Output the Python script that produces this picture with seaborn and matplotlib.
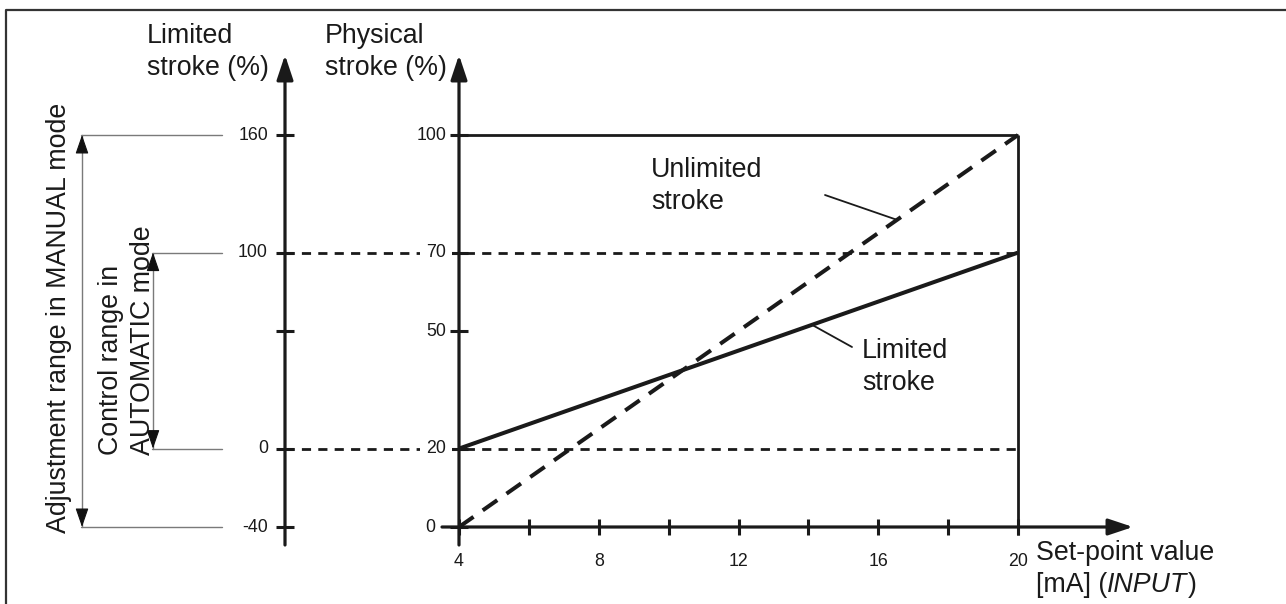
import matplotlib
matplotlib.use("Agg")
import matplotlib.pyplot as plt
import seaborn as sns

# Set-point current (mA) and the stroke it produces, on the physical scale (%)
setpoint_ma = [4, 20]
stroke_limited = [20, 70]
stroke_unlimited = [0, 100]

# Stroke limits on the physical scale (limited 0 % and 100 %)
limit_low = 20
limit_high = 70

# Tick values and labels
x_ticks = [4, 6, 8, 10, 12, 14, 16, 18, 20]
x_tick_labels = ["4", "", "8", "", "12", "", "16", "", "20"]
physical_ticks = [0, 20, 50, 70, 100]
physical_tick_labels = ["0", "20", "50", "70", "100"]
limited_ticks = [-40, 0, 60, 100, 160]
limited_tick_labels = ["-40", "0", "", "100", "160"]

# Adjustment ranges on the limited-stroke scale
manual_range = [-40, 160]
automatic_range = [0, 100]

sns.set_theme(style="white")
plt.rcParams["font.family"] = ["Liberation Sans", "DejaVu Sans"]

W, H = 1286, 604
fig = plt.figure(figsize=(W / 100, H / 100), dpi=100)
ax = fig.add_axes([0, 0, 1, 1])

# Pixel layout of the data area: 4 mA at x=459 px, 20 mA at x=1018 px,
# 0 % at y=527 px, 100 % at y=135 px
PX_PER_MA = (1018 - 459) / 16
PX_PER_PCT = (527 - 135) / 100
X0 = 4 - 459 / PX_PER_MA
Y0 = 527 / PX_PER_PCT
ax.set_xlim(X0, X0 + W / PX_PER_MA)
ax.set_ylim(Y0 - H / PX_PER_PCT, Y0)
ax.axis("off")


def xd(px):
    return X0 + px / PX_PER_MA


def yd(py):
    return Y0 - py / PX_PER_PCT


def dx(px):
    return px / PX_PER_MA


def dy(px):
    return px / PX_PER_PCT


def limited_to_physical(v):
    return limit_low + v * (limit_high - limit_low) / 100


INK = "#1a1a1a"
GUIDE = "#7a7a7a"
FS = 19.3
TICK_FS = 12.8

# Page frame
ax.plot([xd(6), xd(6), xd(W + 5)], [yd(H + 5), yd(10), yd(10)],
        color="#333333", lw=1.6, clip_on=False, solid_capstyle="butt")

# Axis arrows
axis_head = dict(arrowstyle="-|>,head_length=1.5,head_width=0.5",
                 mutation_scale=10, color=INK, lw=2.3,
                 shrinkA=0, shrinkB=0)
left_axis_x = xd(285)
for xa in (left_axis_x, setpoint_ma[0]):
    ax.annotate("", xy=(xa, yd(55)), xytext=(xa, yd(545)),
                arrowprops=axis_head)
ax.annotate("", xy=(xd(1133), 0), xytext=(xd(442), 0),
            arrowprops=axis_head)

# Ticks on the limited-stroke axis
for v, lab in zip(limited_ticks, limited_tick_labels):
    y = limited_to_physical(v)
    ax.plot([left_axis_x - dx(9), left_axis_x + dx(9)], [y, y],
            color=INK, lw=2.2, solid_capstyle="butt")
    if lab:
        ax.text(xd(268), y, lab, ha="right", va="center",
                fontsize=TICK_FS, color=INK)

# Ticks on the physical-stroke axis; labels on a dashed limit line
# sit in a gap of that line
for v, lab in zip(physical_ticks, physical_tick_labels):
    ax.plot([setpoint_ma[0] - dx(9), setpoint_ma[0] + dx(9)], [v, v],
            color=INK, lw=2.2, solid_capstyle="butt", zorder=4)
    gap = (dict(boxstyle="square,pad=0.35", fc="white", ec="none")
           if v in (limit_low, limit_high) else None)
    if v == 0:
        ax.text(xd(425), v, lab, ha="left", va="center",
                fontsize=TICK_FS, color=INK, zorder=5)
    else:
        ax.text(xd(446), v, lab, ha="right", va="center",
                fontsize=TICK_FS, color=INK, zorder=5, bbox=gap)

# Ticks on the set-point axis
for v, lab in zip(x_ticks, x_tick_labels):
    ax.plot([v, v], [dy(8), -dy(8)], color=INK, lw=2.2,
            solid_capstyle="butt")
    if lab:
        ax.text(v, yd(561), lab, ha="center", va="center",
                fontsize=TICK_FS, color=INK)

# Full-stroke frame: 100 % line and 20 mA line
ax.plot([setpoint_ma[0], setpoint_ma[1]], [100, 100], color=INK, lw=2.0,
        solid_capstyle="butt")
ax.plot([setpoint_ma[1], setpoint_ma[1]], [-dy(8), 100], color=INK,
        lw=2.0, solid_capstyle="butt")

# Stroke limits as dashed horizontals
for y in (limit_low, limit_high):
    ax.plot([left_axis_x, setpoint_ma[1]], [y, y], color=INK, lw=2.0,
            linestyle=(0, (3.3, 2.6)), dash_capstyle="butt", zorder=2)

# Stroke characteristics
sns.lineplot(x=setpoint_ma, y=stroke_unlimited, ax=ax, color=INK, lw=2.9,
             linestyle=(0, (4.4, 2.8)), dash_capstyle="butt", zorder=3)
sns.lineplot(x=setpoint_ma, y=stroke_limited, ax=ax, color=INK, lw=2.9,
             solid_capstyle="butt", zorder=3)
ax.axis("off")

# Range guides and double arrows
guide_end = xd(222)
range_head = dict(arrowstyle="-|>,head_length=1.3,head_width=0.45",
                  mutation_scale=9, color="#111111", lw=0.8,
                  shrinkA=0, shrinkB=0)
for rng, gx0 in ((manual_range, xd(82)), (automatic_range, xd(153))):
    ylo = limited_to_physical(rng[0])
    yhi = limited_to_physical(rng[1])
    for y in (ylo, yhi):
        ax.plot([gx0 - dx(1), guide_end], [y, y], color=GUIDE, lw=1.0)
    ax.plot([gx0, gx0], [ylo, yhi], color=GUIDE, lw=1.0)
    ax.annotate("", xy=(gx0, yhi), xytext=(gx0, yhi - dy(14)),
                arrowprops=range_head)
    ax.annotate("", xy=(gx0, ylo), xytext=(gx0, ylo + dy(14)),
                arrowprops=range_head)

ax.text(xd(59), yd(318), "Adjustment range in MANUAL mode", rotation=90,
        ha="center", va="center", fontsize=FS, color=INK)
ax.text(xd(127), yd(455), "Control range in\nAUTOMATIC mode", rotation=90,
        ha="center", va="bottom", multialignment="left", linespacing=1.3,
        fontsize=FS, color=INK)

# Axis titles
ax.text(xd(147), yd(23), "Limited\nstroke (%)", ha="left", va="top",
        fontsize=FS, color=INK, linespacing=1.3)
ax.text(xd(325), yd(23), "Physical\nstroke (%)", ha="left", va="top",
        fontsize=FS, color=INK, linespacing=1.3)

# Curve labels with leaders
ax.text(xd(651), yd(157), "Unlimited\nstroke", ha="left", va="top",
        fontsize=FS, color=INK, linespacing=1.3)
ux = xd(897)
ax.plot([xd(825), ux], [yd(195), 100 * (ux - 4) / 16], color=INK, lw=1.3)

ax.text(xd(862), yd(338), "Limited\nstroke", ha="left", va="top",
        fontsize=FS, color=INK, linespacing=1.3)
lx = xd(812)
ax.plot([xd(852), lx], [yd(347), 20 + 50 * (lx - 4) / 16], color=INK,
        lw=1.3)

# Set-point axis title, with the INPUT name in italics
ax.text(xd(1036), yd(540), "Set-point value", ha="left", va="top",
        fontsize=FS, color=INK)
t2 = ax.text(xd(1036), yd(572), "[mA] (", ha="left", va="top",
             fontsize=FS, color=INK)
t3 = ax.annotate("INPUT", xy=(1, 0), xycoords=t2, ha="left", va="bottom",
                 fontsize=FS, color=INK, style="italic")
ax.annotate(")", xy=(1, 0), xycoords=t3, ha="left", va="bottom",
            fontsize=FS, color=INK)

fig.savefig("out.png", dpi=100)
